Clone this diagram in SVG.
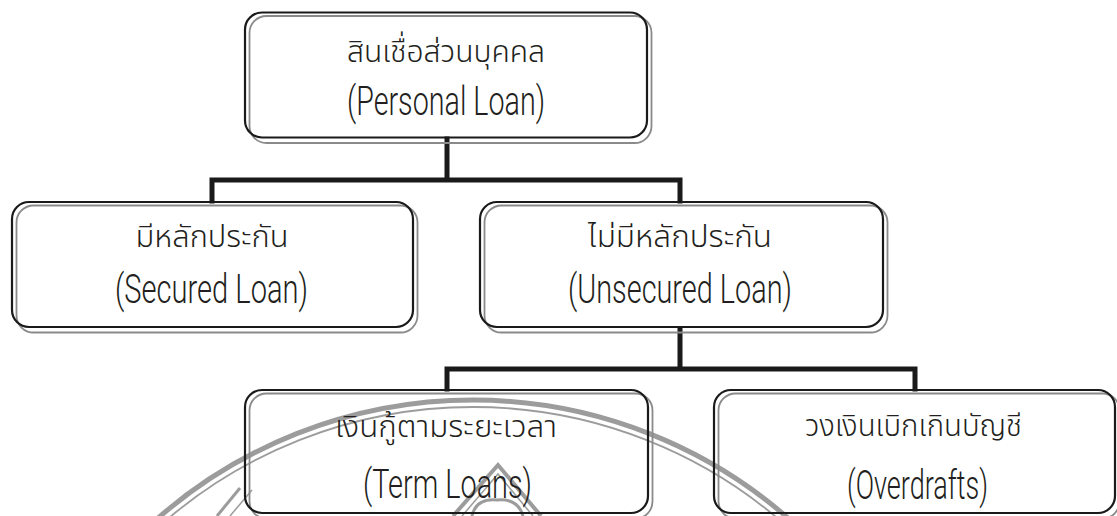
<svg xmlns="http://www.w3.org/2000/svg" width="1117" height="516" viewBox="0 0 1117 516">
  <style>
    .box { fill: none; stroke: #1a1a1a; stroke-width: 2.2; }
    .shadow { fill: none; stroke: #8a8a8a; stroke-width: 1.8; }
    .conn { fill: none; stroke: #1a1a1a; stroke-width: 5; stroke-linecap: square; stroke-linejoin: miter; }
    .wm { fill: none; stroke: #9c9c9c; }
    .th { font-family: "Noto Sans Thai", "Noto Sans", "DejaVu Sans", sans-serif; font-size: 31px; font-weight: 300; fill: #231f20; text-anchor: middle; }
    .en { font-family: Roboto, "Liberation Sans", Arial, sans-serif; font-size: 41px; font-weight: 300; fill: #231f20; text-anchor: middle; }
  </style>
  <rect width="1117" height="516" fill="#ffffff"/>

  <g id="watermark">
    <circle class="wm" cx="473" cy="879" r="479" stroke-width="5"/>
    <circle class="wm" cx="473" cy="879" r="472" stroke-width="1.8"/>
    <path class="wm" d="M453 516 L498 465 L541 516" stroke-width="4"/>
    <path class="wm" d="M462 516 L498 474 L533 516" stroke-width="1.5"/>
    <path class="wm" d="M472 516 Q476 498 497 500 Q518 498 523 516" stroke-width="3"/>
    <path class="wm" d="M217 516 L240 488" stroke-width="3"/>
    <path class="wm" d="M230 516 L252 490" stroke-width="1.5"/>
  </g>

  <g id="connectors">
    <path class="conn" d="M447 139 V180 M212 180 H680 M212 180 V201 M680 180 V201"/>
    <path class="conn" d="M680 329 V369 M447 369 H915 M447 369 V389 M915 369 V389"/>
  </g>

  <g id="node-personal">
    <rect class="shadow" x="249.5" y="16" width="402" height="127" rx="17"/>
    <rect class="box" x="245" y="12.5" width="402" height="125" rx="17"/>
    <text class="th" x="446" y="62" textLength="198" lengthAdjust="spacingAndGlyphs">สินเชื่อส่วนบุคคล</text>
    <text class="en" x="446" y="115" textLength="198" lengthAdjust="spacingAndGlyphs">(Personal Loan)</text>
  </g>

  <g id="node-secured">
    <rect class="shadow" x="16.5" y="205.5" width="401" height="127" rx="17"/>
    <rect class="box" x="12" y="202" width="401" height="125" rx="17"/>
    <text class="th" x="212" y="247" textLength="153" lengthAdjust="spacingAndGlyphs">มีหลักประกัน</text>
    <text class="en" x="211.5" y="303" textLength="193" lengthAdjust="spacingAndGlyphs">(Secured Loan)</text>
  </g>

  <g id="node-unsecured">
    <rect class="shadow" x="484.5" y="205.5" width="403" height="127" rx="17"/>
    <rect class="box" x="480" y="202" width="403" height="125" rx="17"/>
    <text class="th" x="680" y="247" textLength="184" lengthAdjust="spacingAndGlyphs">ไม่มีหลักประกัน</text>
    <text class="en" x="680" y="303" textLength="224" lengthAdjust="spacingAndGlyphs">(Unsecured Loan)</text>
  </g>

  <g id="node-term">
    <rect class="shadow" x="249.5" y="393.5" width="403" height="125" rx="17"/>
    <rect class="box" x="245" y="390" width="403" height="123" rx="17"/>
    <text class="th" x="446" y="437" textLength="222" lengthAdjust="spacingAndGlyphs">เงินกู้ตามระยะเวลา</text>
    <text class="en" x="447.5" y="498" textLength="169" lengthAdjust="spacingAndGlyphs">(Term Loans)</text>
  </g>

  <g id="node-overdrafts">
    <rect class="shadow" x="718.5" y="393.5" width="401" height="125" rx="17"/>
    <rect class="box" x="714" y="390" width="401" height="123" rx="17"/>
    <text class="th" x="913.5" y="436" textLength="217" lengthAdjust="spacingAndGlyphs">วงเงินเบิกเกินบัญชี</text>
    <text class="en" x="917.5" y="499" textLength="141" lengthAdjust="spacingAndGlyphs">(Overdrafts)</text>
  </g>
</svg>
